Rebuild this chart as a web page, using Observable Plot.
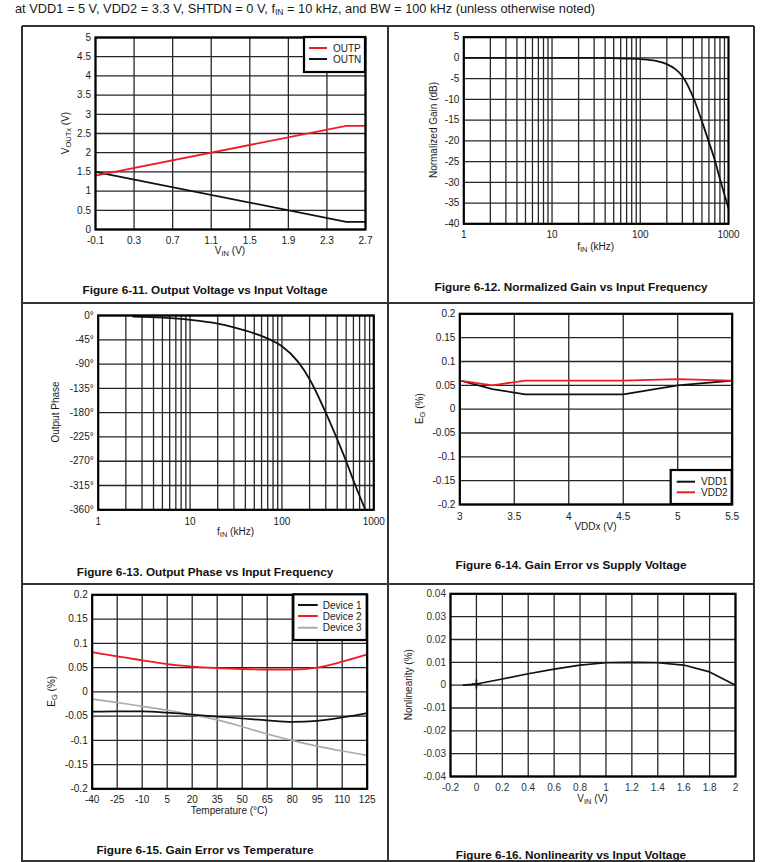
<!DOCTYPE html>
<html>
<head>
<meta charset="utf-8">
<script src="https://cdn.jsdelivr.net/npm/d3@7"></script>
<script src="https://cdn.jsdelivr.net/npm/@observablehq/plot@0.6"></script>
<style>
  html, body { margin: 0; padding: 0; background: #fff; }
  #page { position: relative; width: 762px; height: 862px; overflow: hidden; font-family: 'Liberation Sans', Arial, Helvetica, sans-serif; color: #1a1a1a; }
  .hdr { position: absolute; left: 15px; top: 1px; font-size: 12.8px; white-space: nowrap; }
  .hdr sub { font-size: 8.5px; vertical-align: -2px; line-height: 0; }
  .line { position: absolute; background: #333; }
  .cap { position: absolute; text-align: center; font-weight: bold; font-size: 11.75px; line-height: 14px; white-space: nowrap; color: #111; }
  svg { position: absolute; overflow: visible; }
</style>
</head>
<body>
<div id="page">
  <div class="hdr">at VDD1 = 5 V, VDD2 = 3.3 V, SHTDN = 0 V, f<sub>IN</sub> = 10 kHz, and BW = 100 kHz (unless otherwise noted)</div>
</div>
<script>
// ---------------- DATA ----------------
// Figure 6-11: Output Voltage vs Input Voltage
const p1Vin  = [-0.1, 2.5, 2.7];
const p1Outp = [1.4, 2.7, 2.7];
const p1Outn = [1.5, 0.2, 0.2];
const p1XTicks = [-0.1, 0.3, 0.7, 1.1, 1.5, 1.9, 2.3, 2.7];
const p1YTicks = [0, 0.5, 1, 1.5, 2, 2.5, 3, 3.5, 4, 4.5, 5];

// Figure 6-12: Normalized Gain vs Input Frequency
const p2Freq = [1, 10, 30, 50, 70, 100, 150, 200, 250, 300, 400, 500, 600, 700, 800, 900, 1000];
const p2Gain = [0, 0, 0, -0.05, -0.15, -0.3, -0.7, -1.5, -2.7, -4.4, -9.6, -15.3, -20.3, -24.7, -29.2, -33, -36.3];
const p2YTicks = [5, 0, -5, -10, -15, -20, -25, -30, -35, -40];

// log axes shared by 6-12 and 6-13
const logTicks = [1, 10, 100, 1000];
const logGrid = [2, 3, 4, 5, 6, 7, 8, 9, 10, 20, 30, 40, 50, 60, 70, 80, 90, 100, 200, 300, 400, 500, 600, 700, 800, 900];

// Figure 6-13: Output Phase vs Input Frequency
const p3Freq  = [2.4, 5, 10, 20, 30, 50, 75, 100, 150, 200, 300, 390, 500, 630, 810];
const p3Phase = [-2, -4, -8, -15, -22, -33, -45, -57, -86, -118, -180, -225, -270, -315, -360];
const p3YTicks = [0, -45, -90, -135, -180, -225, -270, -315, -360];

// Figure 6-14: Gain Error vs Supply Voltage
const p4Vdd  = [3, 3.3, 3.6, 4.5, 5, 5.5];
const p4Vdd1 = [0.06, 0.042, 0.031, 0.031, 0.05, 0.06];
const p4Vdd2 = [0.06, 0.05, 0.06, 0.06, 0.063, 0.06];
const p4XTicks = [3, 3.5, 4, 4.5, 5, 5.5];
const egTicks = [0.2, 0.15, 0.1, 0.05, 0, -0.05, -0.1, -0.15, -0.2];

// Figure 6-15: Gain Error vs Temperature
const p5Temp = [-40, -25, -10, 5, 20, 35, 50, 65, 80, 95, 110, 125];
const p5Dev1 = [-0.041, -0.0405, -0.0405, -0.043, -0.047, -0.051, -0.055, -0.059, -0.062, -0.06, -0.053, -0.044];
const p5Dev2 = [0.082, 0.073, 0.065, 0.057, 0.052, 0.049, 0.047, 0.046, 0.046, 0.05, 0.062, 0.077];
const p5Dev3 = [-0.015, -0.022, -0.03, -0.038, -0.047, -0.058, -0.072, -0.087, -0.1, -0.112, -0.122, -0.131];
const p5XTicks = [-40, -25, -10, 5, 20, 35, 50, 65, 80, 95, 110, 125];

// Figure 6-16: Nonlinearity vs Input Voltage
const p6Vin = [-0.1, 0, 0.2, 0.4, 0.6, 0.8, 1, 1.2, 1.4, 1.6, 1.8, 2];
const p6Nl  = [0, 0.0005, 0.0027, 0.005, 0.007, 0.0088, 0.0098, 0.01, 0.0098, 0.0088, 0.0058, 0];
const p6XTicks = [-0.2, 0, 0.2, 0.4, 0.6, 0.8, 1, 1.2, 1.4, 1.6, 1.8, 2];
const p6YTicks = [0.04, 0.03, 0.02, 0.01, 0, -0.01, -0.02, -0.03, -0.04];

// ---------------- LAYOUT HELPERS ----------------
const FONT = "'Liberation Sans', Arial, Helvetica, sans-serif";
const RED = "#ee1c24", BLACK = "#111", GRAY = "#aaaaaa", GRID = "#262626";
const page = document.getElementById("page");

function hline(x, y, w) { const d = document.createElement("div"); d.className = "line"; Object.assign(d.style, {left: x + "px", top: (y - 0.75) + "px", width: w + "px", height: "1.5px"}); page.appendChild(d); }
function vline(x, y, h) { const d = document.createElement("div"); d.className = "line"; Object.assign(d.style, {left: (x - 0.75) + "px", top: y + "px", width: "1.5px", height: h + "px"}); page.appendChild(d); }
hline(22, 26, 732); vline(22, 26, 836); vline(754, 26, 836); vline(388, 26, 836);
hline(22, 303, 732); hline(22, 584, 732); hline(22, 861, 732);

function caption(text, cellLeft, cy) {
  const d = document.createElement("div"); d.className = "cap"; d.textContent = text;
  Object.assign(d.style, {left: cellLeft + "px", width: "366px", top: (cy - 7) + "px"});
  page.appendChild(d);
}

function panel(cfg) {
  const fs = cfg.fs || 10;
  const svg = Plot.plot({
    width: cfg.w, height: cfg.h,
    marginLeft: cfg.ml, marginRight: cfg.mr, marginTop: cfg.mt, marginBottom: cfg.mb,
    style: {fontFamily: FONT, fontSize: fs + "px", color: cfg.color || "#1a1a1a", background: "transparent", overflow: "visible"},
    x: {...cfg.x, label: null},
    y: {...cfg.y, label: null},
    marks: [
      Plot.ruleX(cfg.xGrid, {stroke: GRID, strokeWidth: 1.3}),
      Plot.ruleY(cfg.yGrid, {stroke: GRID, strokeWidth: 1.3}),
      ...cfg.marks,
      Plot.frame({stroke: "#000", strokeWidth: 2.2}),
      Plot.axisX({ticks: cfg.xTicks, tickSize: 0, tickPadding: cfg.xPad ?? 7.5, tickFormat: cfg.xFmt || (d => String(d)), label: null}),
      Plot.axisY({ticks: cfg.yTicks, tickSize: 0, tickPadding: cfg.yPad ?? 4.5, tickFormat: cfg.yFmt || (d => String(d)), label: null})
    ]
  });
  svg.style.left = cfg.left + "px"; svg.style.top = cfg.top + "px";
  page.appendChild(svg);
  const g = d3.select(svg);
  const ox = cfg.left, oy = cfg.top;
  // axis titles: parts = [[text, isSub], ...]
  function title(cx, cy, parts, rotate) {
    const t = g.append("text")
      .attr("transform", `translate(${cx - ox},${cy - oy})` + (rotate ? " rotate(-90)" : ""))
      .attr("text-anchor", "middle").attr("dy", "0.35em")
      .attr("font-family", FONT).attr("font-size", 10).attr("fill", "#1a1a1a");
    let shifted = false;
    parts.forEach(([s, sub]) => {
      const ts = t.append("tspan").text(s);
      if (sub && !shifted) { ts.attr("dy", 2.2).attr("font-size", 7.5); shifted = true; }
      else if (!sub && shifted) { ts.attr("dy", -2.2); shifted = false; }
    });
  }
  title(cfg.xt[0], cfg.xt[1], cfg.xt[2], false);
  title(cfg.yt[0], cfg.yt[1], cfg.yt[2], true);
  if (cfg.legend) {
    const L = cfg.legend;
    g.append("rect").attr("x", L.x0 - ox).attr("y", L.y0 - oy).attr("width", L.x1 - L.x0).attr("height", L.y1 - L.y0)
      .attr("fill", "#fff").attr("stroke", "#000").attr("stroke-width", 2.2);
    L.items.forEach((it, i) => {
      const y = L.ys[i] - oy;
      g.append("line").attr("x1", L.lx0 - ox).attr("x2", L.lx1 - ox).attr("y1", y).attr("y2", y)
        .attr("stroke", it[1]).attr("stroke-width", 2);
      g.append("text").attr("x", L.tx - ox).attr("y", y).attr("dy", "0.35em").attr("text-anchor", "start")
        .attr("font-family", FONT).attr("font-size", L.fs || 10).attr("fill", "#1a1a1a").text(it[0]);
    });
  }
  return svg;
}

// ---------------- Figure 6-11 ----------------
panel({
  left: 40, top: 30, w: 340, h: 240, ml: 55, mr: 15, mt: 7, mb: 41,
  x: {domain: [-0.1, 2.7]}, y: {domain: [0, 5]},
  xTicks: p1XTicks, yTicks: p1YTicks, xGrid: p1XTicks, yGrid: p1YTicks,
  marks: [
    Plot.line(p1Outn, {x: p1Vin, y: p1Outn, stroke: BLACK, strokeWidth: 1.7}),
    Plot.line(p1Outp, {x: p1Vin, y: p1Outp, stroke: RED, strokeWidth: 1.8})
  ],
  xt: [230, 250, [["V"], ["IN", true], [" (V)"]]],
  yt: [65, 133, [["V"], ["OUTx", true], [" (V)"]]],
  legend: {x0: 304, x1: 365, y0: 37, y1: 72, lx0: 309, lx1: 327, tx: 333, ys: [48, 59], items: [["OUTP", RED], ["OUTN", BLACK]]}
});
caption("Figure 6-11. Output Voltage vs Input Voltage", 22, 290);

// ---------------- Figure 6-12 ----------------
panel({
  left: 400, top: 30, w: 350, h: 240, ml: 63.3, mr: 22, mt: 6.7, mb: 46.7,
  x: {type: "log", domain: [1, 1000]}, y: {domain: [-40, 5]},
  xTicks: logTicks, yTicks: p2YTicks, xGrid: logGrid, yGrid: p2YTicks,
  marks: [
    Plot.line(p2Gain, {x: p2Freq, y: p2Gain, stroke: BLACK, strokeWidth: 1.8, curve: "monotone-x"})
  ],
  xt: [595.7, 246, [["f"], ["IN", true], [" (kHz)"]]],
  yt: [433, 130, [["Normalized Gain (dB)"]]]
});
caption("Figure 6-12. Normalized Gain vs Input Frequency", 388, 286.7);

// ---------------- Figure 6-13 ----------------
panel({
  left: 40, top: 305, w: 346, h: 240, ml: 57.7, mr: 12.7, mt: 10, mb: 35.7,
  x: {type: "log", domain: [1, 1000]}, y: {domain: [-360, 0]},
  xTicks: logTicks, yTicks: p3YTicks, xGrid: logGrid, yGrid: p3YTicks,
  yFmt: d => d + "°", xPad: 8.5,
  marks: [
    Plot.line(p3Phase, {x: p3Freq, y: p3Phase, stroke: BLACK, strokeWidth: 1.8, curve: "monotone-x"})
  ],
  xt: [235.5, 531.7, [["f"], ["IN", true], [" (kHz)"]]],
  yt: [55, 412, [["Output Phase"]]]
});
caption("Figure 6-13. Output Phase vs Input Frequency", 22, 571.7);

// ---------------- Figure 6-14 ----------------
panel({
  left: 400, top: 305, w: 350, h: 240, ml: 59.3, mr: 18.3, mt: 8.3, mb: 41,
  x: {domain: [3, 5.5]}, y: {domain: [-0.2, 0.2]},
  xTicks: p4XTicks, yTicks: egTicks, xGrid: p4XTicks, yGrid: egTicks, xPad: 8.5,
  marks: [
    Plot.line(p4Vdd1, {x: p4Vdd, y: p4Vdd1, stroke: BLACK, strokeWidth: 1.7}),
    Plot.line(p4Vdd2, {x: p4Vdd, y: p4Vdd2, stroke: RED, strokeWidth: 1.8})
  ],
  xt: [595.5, 526.7, [["VDDx (V)"]]],
  yt: [419, 408.7, [["E"], ["G", true], [" (%)"]]],
  legend: {x0: 670.7, x1: 731.7, y0: 470, y1: 504, lx0: 676.7, lx1: 695, tx: 701, ys: [481.7, 492.3], items: [["VDD1", BLACK], ["VDD2", RED]]}
});
caption("Figure 6-14. Gain Error vs Supply Voltage", 388, 565);

// ---------------- Figure 6-15 ----------------
panel({
  left: 40, top: 588, w: 340, h: 240, ml: 51.7, mr: 13.3, mt: 6.3, mb: 39.7,
  x: {domain: [-40, 125]}, y: {domain: [-0.2, 0.2]},
  xTicks: p5XTicks, yTicks: egTicks, xGrid: p5XTicks, yGrid: egTicks,
  marks: [
    Plot.line(p5Dev3, {x: p5Temp, y: p5Dev3, stroke: GRAY, strokeWidth: 1.7, curve: "monotone-x"}),
    Plot.line(p5Dev1, {x: p5Temp, y: p5Dev1, stroke: BLACK, strokeWidth: 1.7, curve: "monotone-x"}),
    Plot.line(p5Dev2, {x: p5Temp, y: p5Dev2, stroke: RED, strokeWidth: 1.8, curve: "monotone-x"})
  ],
  xt: [229.2, 810, [["Temperature (°C)"]]],
  yt: [51.7, 691.3, [["E"], ["G", true], [" (%)"]]],
  legend: {x0: 293.3, x1: 366.7, y0: 594.3, y1: 640, lx0: 298, lx1: 317.7, tx: 322.7, ys: [605, 616, 627.7], items: [["Device 1", BLACK], ["Device 2", RED], ["Device 3", GRAY]]}
});
caption("Figure 6-15. Gain Error vs Temperature", 22, 850);

// ---------------- Figure 6-16 ----------------
panel({
  left: 400, top: 588, w: 350, h: 240, ml: 50, mr: 15, mt: 5.3, mb: 52,
  x: {domain: [-0.2, 2]}, y: {domain: [-0.04, 0.04]}, fs: 10, color: "#333",
  xTicks: p6XTicks, yTicks: p6YTicks, xGrid: p6XTicks, yGrid: p6YTicks, xPad: 7,
  marks: [
    Plot.line(p6Nl, {x: p6Vin, y: p6Nl, stroke: BLACK, strokeWidth: 1.7}),
    Plot.dot([0], {x: p6Vin.slice(1, 2), y: p6Nl.slice(1, 2), symbol: "plus", r: 3, stroke: BLACK, strokeWidth: 1.6})
  ],
  xt: [592.5, 798.3, [["V"], ["IN", true], [" (V)"]]],
  yt: [408, 684.7, [["Nonlinearity (%)"]]]
});
caption("Figure 6-16. Nonlinearity vs Input Voltage", 388, 855);
</script>
</body>
</html>
